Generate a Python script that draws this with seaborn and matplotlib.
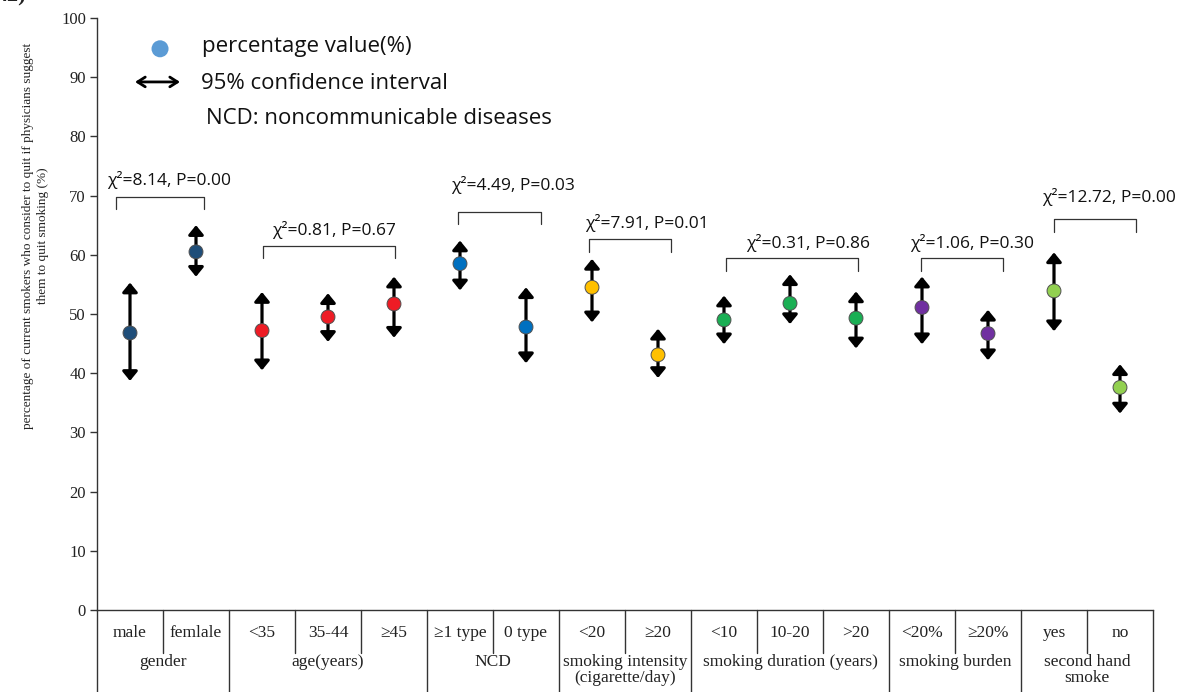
import matplotlib
matplotlib.use('Agg')
import matplotlib.pyplot as plt
import seaborn as sns
import numpy as np
import pandas as pd

sns.set_style('white')
plt.rcParams['font.family'] = ['Liberation Serif', 'DejaVu Serif']

# ---- data ----
categories = ['male', 'femlale', '<35', '35-44', '\u226545', '\u22651 type', '0 type',
              '<20', '\u226520', '<10', '10-20', '>20', '<20%', '\u226520%', 'yes', 'no']
group_labels = ['gender', 'age(years)', 'NCD', 'smoking intensity\n(cigarette/day)',
                'smoking duration (years)', 'smoking burden', 'second hand\nsmoke']
group_sizes = [2, 3, 2, 2, 3, 2, 2]
pct = [46.8, 60.5, 47.2, 49.5, 51.7, 58.5, 47.8, 54.5, 43.1,
       49.0, 51.8, 49.3, 51.1, 46.7, 53.9, 37.6]
ci_low = [38.7, 56.3, 40.5, 45.3, 46.0, 54.0, 41.7, 48.6, 39.2,
          44.9, 48.3, 44.2, 44.9, 42.2, 47.1, 33.2]
ci_high = [55.3, 65.0, 53.7, 53.5, 56.3, 62.4, 54.5, 59.3, 47.5,
           53.1, 56.7, 53.8, 56.3, 50.7, 60.4, 41.5]
chi_labels = ['\u03c7\u00b2=8.14, P=0.00', '\u03c7\u00b2=0.81, P=0.67',
              '\u03c7\u00b2=4.49, P=0.03', '\u03c7\u00b2=7.91, P=0.01',
              '\u03c7\u00b2=0.31, P=0.86', '\u03c7\u00b2=1.06, P=0.30',
              '\u03c7\u00b2=12.72, P=0.00']
group_colors = ['#1f4e79', '#ee1c25', '#0070c0', '#ffc000', '#1aaf54', '#7030a0', '#92d050']

# bracket layout (x from, x to, top y) and label anchors
bracket_x = [(-0.21, 1.12), (2.01, 4.02), (4.97, 6.23), (6.95, 8.20),
             (9.03, 11.03), (11.99, 13.23), (14.00, 15.24)]
bracket_top = [69.8, 61.5, 67.3, 62.6, 59.4, 59.4, 66.0]
label_x = [-0.35, 2.15, 4.86, 6.89, 9.33, 11.82, 13.82]
label_y = [72.6, 64.2, 71.8, 65.4, 62.0, 62.0, 69.8]

group_of = []
for name, n in zip(group_labels, group_sizes):
    group_of += [name] * n
df = pd.DataFrame({'pos': np.arange(len(categories)), 'category': categories,
                   'group': group_of, 'pct': pct, 'lo': ci_low, 'hi': ci_high})

fig = plt.figure(figsize=(11.84, 6.92), dpi=100)
ax = fig.add_axes([97 / 1184, 82 / 692, 1056 / 1184, 592 / 692])
line_c = '#333333'
sans = ['Open Sans', 'DejaVu Sans']

# confidence interval arrows
for _, r in df.iterrows():
    ax.annotate('', xy=(r['pos'], r['hi']), xytext=(r['pos'], r['lo']),
                arrowprops=dict(arrowstyle='<|-|>,head_length=0.55,head_width=0.45',
                                mutation_scale=10, lw=2.3, color='black',
                                shrinkA=0, shrinkB=0), zorder=2)

sns.scatterplot(data=df, x='pos', y='pct', hue='group', palette=group_colors,
                s=100, edgecolor='#505050', linewidth=0.7, legend=False, zorder=3, ax=ax)

# chi-square brackets
for (x0, x1), top, txt, tx, ty in zip(bracket_x, bracket_top, chi_labels, label_x, label_y):
    ax.plot([x0, x0, x1, x1], [top - 2.1, top, top, top - 2.1], color=line_c, lw=0.9)
    ax.text(tx, ty, txt, family=sans, fontsize=12.5, ha='left', va='center', color='#111111')

# legend block
ax.scatter([0.455], [94.8], s=150, color='#5b9bd5', edgecolor='none', clip_on=False)
ax.annotate('', xy=(0.758, 89.2), xytext=(0.076, 89.2),
            arrowprops=dict(arrowstyle='<->,head_length=0.55,head_width=0.35',
                            mutation_scale=10, lw=2.0, color='black', shrinkA=0, shrinkB=0))
ax.text(1.09, 95.2, 'percentage value(%)', family=sans, fontsize=16, va='center', color='#111111')
ax.text(1.07, 89.0, '95% confidence interval', family=sans, fontsize=16, va='center', color='#111111')
ax.text(1.15, 83.1, 'NCD: noncommunicable diseases', family=sans, fontsize=16, va='center', color='#111111')

# axes styling
ax.set_xlim(-0.5, 15.5)
ax.set_ylim(0, 100)
ax.set_yticks(np.arange(0, 101, 10))
ax.set_xticks([])
ax.set_xlabel('')
ax.set_ylabel('')
for s in ['top', 'right']:
    ax.spines[s].set_visible(False)
for s in ['left', 'bottom']:
    ax.spines[s].set_color(line_c)
    ax.spines[s].set_linewidth(1.0)
ax.tick_params(axis='y', left=True, length=5, width=1.0, color=line_c,
               labelsize=12, labelcolor='#222222', pad=3)

# category table under the axis
bottom_y = -20
bounds = np.cumsum([0] + group_sizes) - 0.5
ax.plot([-0.5, -0.5], [0, bottom_y], color=line_c, lw=1.0, clip_on=False)
for b in bounds[1:]:
    ax.plot([b, b], [0, bottom_y], color=line_c, lw=1.0, clip_on=False)
start = 0
for name, n in zip(group_labels, group_sizes):
    for k in range(1, n):
        xb = start + k - 0.5
        ax.plot([xb, xb], [0, -7.3], color=line_c, lw=1.0, clip_on=False)
    ax.text(start + (n - 1) / 2, -7.5, name, ha='center', va='top', fontsize=12.5,
            linespacing=1.0, color='#222222', clip_on=False)
    start += n
for i, c in enumerate(categories):
    ax.text(i, -3.9, c, ha='center', va='center', fontsize=12.5, color='#222222', clip_on=False)

fig.text(0.03, (692 - 236) / 692,
         'percentage of current smokers who consider to quit if physicians suggest\n'
         'them to quit smoking (%)', rotation=90, ha='center', va='center',
         multialignment='center', fontsize=9.5, linespacing=1.35, color='#222222')
fig.text(-0.003, 1.0 + 4 / 692, '42)', fontsize=16, fontweight='bold', ha='left',
         va='center', color='#222222')

fig.savefig('out.png', dpi=100)
